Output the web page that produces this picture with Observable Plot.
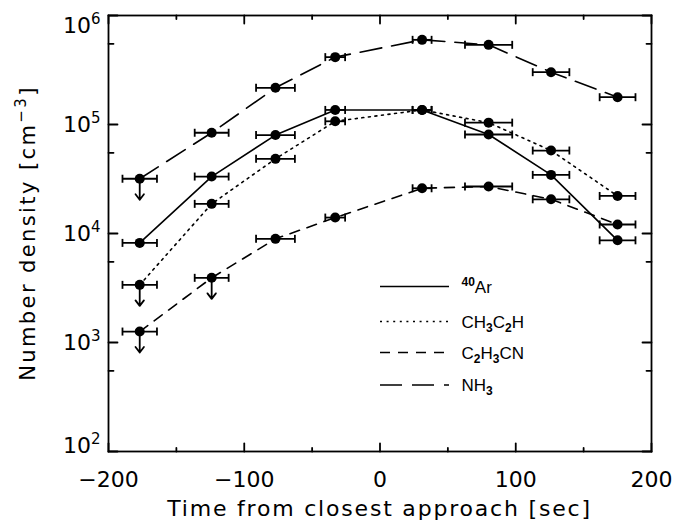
<!DOCTYPE html>
<html><head><meta charset="utf-8">
<script src="https://cdn.jsdelivr.net/npm/d3@7"></script>
<script src="https://cdn.jsdelivr.net/npm/@observablehq/plot@0.6"></script>
<style>body{margin:0;background:#fff;} #chart{width:691px;height:525px;}</style>
</head><body><div id="chart"></div>
<script>
// time from closest approach [sec] and its half-width
const times = [-177, -124, -77, -33, 31, 80, 126, 175];
const timeErr = [12.7, 12.5, 14.3, 7.3, 7, 17.4, 13.5, 13.2];
// number densities [cm^-3]
const ar40   = [8200, 33300, 80000, 136000, 136000, 81000, 34500, 8660];
const ch3c2h = [3380, 18700, 48400, 107000, 136000, 104000, 57700, 22100];
const c2h3cn = [1260, 3920, 8930, 14000, 26000, 27000, 20600, 12100];
const nh3    = [31800, 84000, 217000, 415000, 598000, 538000, 302000, 178000];
// upper-limit flags
const ar40Limit   = [false, false, false, false, false, false, false, false];
const ch3c2hLimit = [true, false, false, false, false, false, false, false];
const c2h3cnLimit = [true, true, false, false, false, false, false, false];
const nh3Limit    = [true, false, false, false, false, false, false, false];
// ticks
const xMajor = [-200, -100, 0, 100, 200];
const xMinor = [-150, -50, 50, 150];
const yMajor = [1e2, 1e3, 1e4, 1e5, 1e6];
const yMinor = [5.5e2, 5.5e3, 5.5e4, 5.5e5];

const seriesDefs = [
  {key: "ar40", values: ar40, limits: ar40Limit, dash: null, label: [["sup","40"],["n","Ar"]]},
  {key: "ch3c2h", values: ch3c2h, limits: ch3c2hLimit, dash: "2,4.6", label: [["n","CH"],["sub","3"],["n","C"],["sub","2"],["n","H"]]},
  {key: "c2h3cn", values: c2h3cn, limits: c2h3cnLimit, dash: "10,8", label: [["n","C"],["sub","2"],["n","H"],["sub","3"],["n","CN"]]},
  {key: "nh3", values: nh3, limits: nh3Limit, dash: "22,10", label: [["n","NH"],["sub","3"]]}
];

const rows = seriesDefs.flatMap(s => s.values.map((v, i) => ({
  series: s.key, x: times[i], err: timeErr[i], y: v, limit: s.limits[i]
})));
const limitRows = rows.filter(d => d.limit);

const vbar = {draw(ctx, size) { const r = Math.sqrt(size / Math.PI); ctx.moveTo(0, -r); ctx.lineTo(0, r); }};
const spike = {draw(ctx, l) { ctx.moveTo(0, 0); ctx.lineTo(0, -l); }};
const arrowShape = {draw(ctx, l) {
  ctx.moveTo(0, 0); ctx.lineTo(0, -l);
  ctx.moveTo(-4.2, -l + 5.5); ctx.lineTo(0, -l); ctx.lineTo(4.2, -l + 5.5);
}};
const fmtX = d => d < 0 ? "\u2212" + Math.abs(d) : String(d);
const tickOpts = {shape: spike, anchor: "start", stroke: "black", strokeWidth: 1.8};

const chart = Plot.plot({
  width: 691, height: 525,
  marginLeft: 108, marginRight: 40, marginTop: 15, marginBottom: 74,
  x: {domain: [-200, 200], label: null},
  y: {type: "log", domain: [1e2, 1e6], label: null},
  style: {fontFamily: "DejaVu Sans", fontSize: "22px", color: "black", background: "white", overflow: "visible"},
  marks: [
    ...seriesDefs.map(s => Plot.line(rows.filter(d => d.series === s.key), {
      x: "x", y: "y", stroke: "black", strokeWidth: 1.6,
      strokeDasharray: s.dash || undefined
    })),
    Plot.link(rows, {x1: d => d.x - d.err, x2: d => d.x + d.err, y1: "y", y2: "y", stroke: "black", strokeWidth: 1.8}),
    Plot.dot(rows, {x: d => d.x - d.err, y: "y", symbol: vbar, r: 4, stroke: "black", strokeWidth: 1.8}),
    Plot.dot(rows, {x: d => d.x + d.err, y: "y", symbol: vbar, r: 4, stroke: "black", strokeWidth: 1.8}),
    Plot.vector(limitRows, {x: "x", y: "y", length: 21, rotate: 180, anchor: "start", shape: arrowShape, stroke: "black", strokeWidth: 1.8}),
    Plot.dot(rows, {x: "x", y: "y", r: 5, fill: "black"}),
    Plot.frame({stroke: "black", strokeWidth: 1.8}),
    // inward ticks on all four sides
    Plot.vector(xMajor, {x: d => d, frameAnchor: "bottom", length: 8, rotate: 0, ...tickOpts}),
    Plot.vector(xMinor, {x: d => d, frameAnchor: "bottom", length: 3.5, rotate: 0, ...tickOpts}),
    Plot.vector(xMajor, {x: d => d, frameAnchor: "top", length: 8, rotate: 180, ...tickOpts}),
    Plot.vector(xMinor, {x: d => d, frameAnchor: "top", length: 3.5, rotate: 180, ...tickOpts}),
    Plot.vector(yMajor, {y: d => d, frameAnchor: "left", length: 9, rotate: 90, ...tickOpts}),
    Plot.vector(yMinor, {y: d => d, frameAnchor: "left", length: 5, rotate: 90, ...tickOpts}),
    Plot.vector(yMajor, {y: d => d, frameAnchor: "right", length: 9, rotate: -90, ...tickOpts}),
    Plot.vector(yMinor, {y: d => d, frameAnchor: "right", length: 5, rotate: -90, ...tickOpts}),
    Plot.axisX(xMajor, {anchor: "bottom", tickSize: 0, tickPadding: 20, tickFormat: fmtX}),
    Plot.axisY(yMajor, {anchor: "left", tickSize: 0, tickPadding: 8, tickFormat: d => "10^" + Math.round(Math.log10(d))})
  ]
});
document.getElementById("chart").appendChild(chart);

const svg = d3.select(chart);
// superscript exponents on y tick labels
svg.selectAll("text").each(function() {
  const t = d3.select(this);
  const s = t.text();
  if (/^10\^\d$/.test(s)) {
    const e = s.split("^")[1];
    t.text("10");
    t.append("tspan").attr("dy", "-9").attr("font-size", "15px").text(e);
    if (e === "6") t.attr("dy", "10");
    if (e === "2") t.attr("dy", "-6");
  }
});

// axis titles
svg.append("text").attr("x", 379.5).attr("y", 516).attr("text-anchor", "middle")
  .attr("font-family", "DejaVu Sans").attr("font-size", "22px").attr("letter-spacing", "1.8px")
  .text("Time from closest approach [sec]");
const yt = svg.append("text").attr("transform", "translate(35,233) rotate(-90)").attr("text-anchor", "middle")
  .attr("font-family", "DejaVu Sans").attr("font-size", "21px").attr("letter-spacing", "2.4px");
yt.append("tspan").text("Number density [cm");
yt.append("tspan").attr("dy", "-9").attr("font-size", "15px").text("\u22123");
yt.append("tspan").attr("dy", "9").text("]");

// legend
const leg = svg.append("g").attr("font-family", "Liberation Sans, Arial, sans-serif").attr("font-size", "17px")
  .attr("text-anchor", "start");
seriesDefs.forEach((s, i) => {
  const yy = [286.5, 321.5, 352.5, 385][i];
  leg.append("line").attr("x1", 380).attr("x2", 449).attr("y1", yy).attr("y2", yy)
    .attr("stroke", "black").attr("stroke-width", 1.6).attr("stroke-dasharray", s.dash || null);
  const t = leg.append("text").attr("x", 461.5).attr("y", yy + 6).attr("text-anchor", "start");
  let shift = 0;
  s.label.forEach(([kind, str]) => {
    const sp = t.append("tspan").text(str);
    let target = kind === "sub" ? 4 : kind === "sup" ? -7 : 0;
    if (target !== shift) { sp.attr("dy", target - shift); shift = target; }
    if (kind !== "n") sp.attr("font-size", "12px").attr("font-weight", "bold");
  });
});
</script>
</body></html>
